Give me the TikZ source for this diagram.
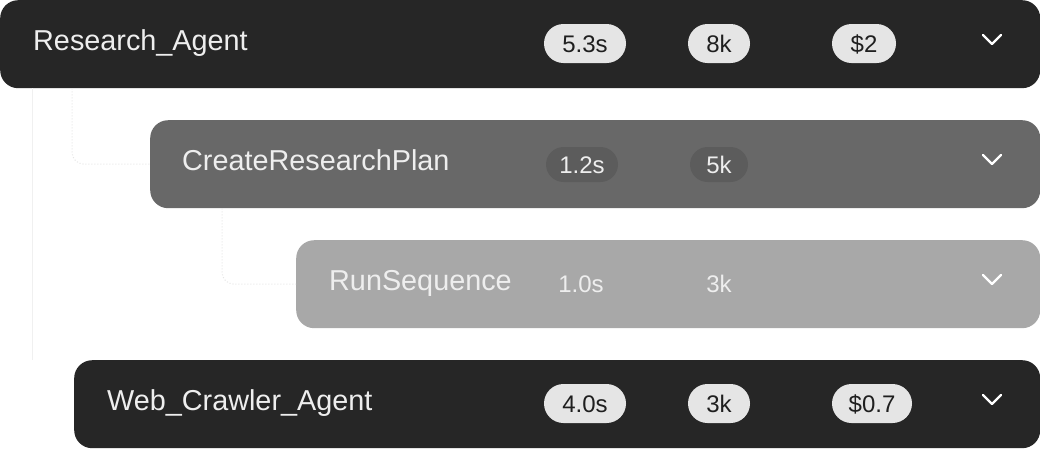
\documentclass[tikz,border=0pt]{standalone}
\usepackage{fontspec}
\setmainfont{Liberation Sans}
\definecolor{cdark}{HTML}{262626}
\definecolor{cmid}{HTML}{686868}
\definecolor{clight}{HTML}{A8A8A8}
\definecolor{cpill}{HTML}{E5E5E5}
\definecolor{cpilltxt}{HTML}{1F1F1F}
\definecolor{cpillmid}{HTML}{5C5C5C}
\definecolor{ctxt}{HTML}{EEEEEE}
\definecolor{cconn}{HTML}{E6E6E6}
\tikzset{
  rowbox/.style={anchor=north west, rounded corners=18pt, minimum height=88pt, inner sep=0pt},
  lbl/.style={anchor=base west, text=ctxt, inner sep=0pt, font=\fontsize{28.8}{34}\selectfont},
  pill/.style={rounded corners=19.5pt, fill=cpill, text=cpilltxt, minimum height=39pt, inner sep=0pt, text height=17pt, text depth=0pt, font=\fontsize{24}{28}\selectfont},
  pillmid/.style={rounded corners=17.5pt, fill=cpillmid, text=ctxt, minimum height=35pt, inner sep=0pt, text height=17pt, text depth=0pt, font=\fontsize{24}{28}\selectfont},
  plain/.style={text=ctxt, inner sep=0pt, text height=17pt, text depth=0pt, font=\fontsize{24}{28}\selectfont},
  chev/.style={draw=white, line width=2.4pt, line cap=round, line join=round},
  conn/.style={draw=cconn, line width=1pt, dotted, rounded corners=12pt}
}
\begin{document}
\begin{tikzpicture}[x=1pt,y=-1pt]
\useasboundingbox[fill=white] (0,0) rectangle (1040,472);
% rows
\node[rowbox, fill=cdark, minimum width=1040pt] (ra) at (0,0) {};
\node[rowbox, fill=cmid, minimum width=890pt] (crp) at (150,120) {};
\node[rowbox, fill=clight, minimum width=744pt] (rs) at (296,240) {};
\node[rowbox, fill=cdark, minimum width=966pt] (wc) at (74,360) {};
% connectors
\draw[conn] (ra.south west) ++(72,0) |- (crp.west);
\draw[conn] (crp.south west) ++(72,0) |- (rs.west);
\draw[draw=cconn!60, line width=1pt] (ra.south west) ++(32,0) coordinate (vtop) -- (vtop |- wc.north);
% labels
\node[lbl] (ra-t) at (33,50) {Research\_Agent};
\node[lbl] (crp-t) at (182,170) {CreateResearchPlan};
\node[lbl] (rs-t) at (329,290) {RunSequence};
\node[lbl] (wc-t) at (107,410) {Web\_Crawler\_Agent};
% pills row 1
\node[pill, minimum width=82pt] (ra-p1) at (585,43.5) {5.3s};
\node[pill, minimum width=62pt] (ra-p2) at (719,43.5) {8k};
\node[pill, minimum width=64pt] (ra-p3) at (864,43.5) {\$2};
% row 2
\node[pillmid, minimum width=72pt] (crp-p1) at (582,164.5) {1.2s};
\node[pillmid, minimum width=58pt] (crp-p2) at (719,164.5) {5k};
% row 3
\node[plain] (rs-p1) at (581,284) {1.0s};
\node[plain] (rs-p2) at (719,284) {3k};
% row 4
\node[pill, minimum width=82pt] (wc-p1) at (585,403.5) {4.0s};
\node[pill, minimum width=62pt] (wc-p2) at (719,403.5) {3k};
\node[pill, minimum width=80pt] (wc-p3) at (872,403.5) {\$0.7};
% chevrons
\foreach \yy in {35,155,275,395}{
  \draw[chev] (983,\yy) -- (992,\yy+9) -- (1001,\yy);
}
\end{tikzpicture}
\end{document}
